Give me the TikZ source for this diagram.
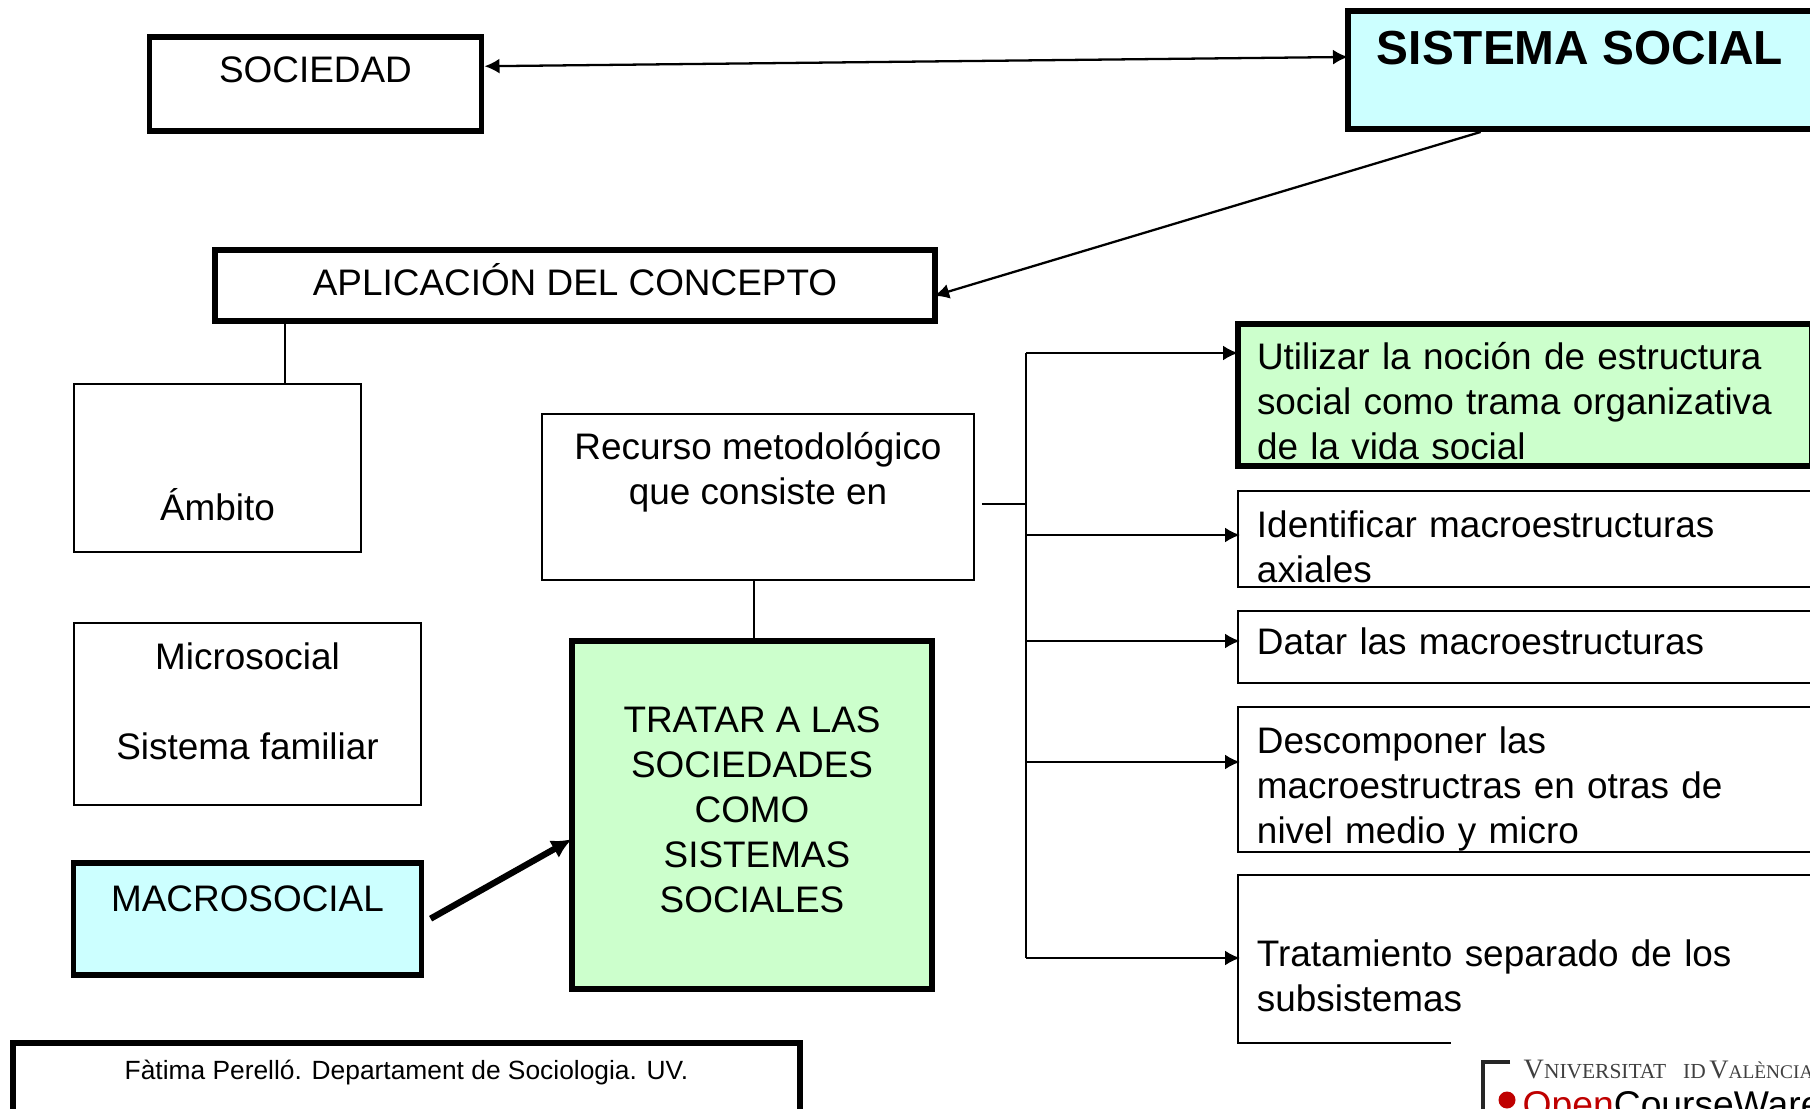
\documentclass[tikz,border=0pt]{standalone}
\usepackage{fontspec}
\setmainfont{Liberation Sans}
\newfontfamily\logofont{Liberation Serif}
\usepackage{xcolor}
\usetikzlibrary{arrows.meta}
\definecolor{cielo}{HTML}{CCFFFF}
\definecolor{menta}{HTML}{CCFFCC}
% extra room above the first line / below the last line of a box
\newcommand{\topgap}[1]{\rule{0pt}{#1}}
\newcommand{\lowgap}[1]{\rule[-#1]{0pt}{#1}}
\tikzset{
    thinbox/.style={draw = black, line width = 0.55pt, inner sep = 0pt, align = center,
        font = \fontsize{10.5}{12.8}\selectfont},
    thickbox/.style={thinbox, line width = 1.7pt},
    rightbox/.style={anchor = north west, minimum width = 5.74cm, text width = 5.36cm,
        inner xsep = .19cm, align = left},
    link/.style={draw = black, line width = 0.65pt},
    pointer/.style={link, shorten >= -.03cm, -{Latex[length=1.5mm,width=1.5mm]}},
}
\begin{document}
\begin{tikzpicture}
        \useasboundingbox (0,0) rectangle (18.1,-11.09);

        \node[thickbox, minimum width = 3.32cm, minimum height = .94cm] (sociedad) at (3.155,-.84) {SOCIEDAD\lowgap{8.4pt}};
        \node[thickbox, fill = cielo, anchor = north west, minimum width = 4.80cm, minimum height = 1.18cm,
        font = \fontsize{13.6}{15}\selectfont\bfseries] (sistema) at (13.45,-.08) {\hspace{-.16cm}SISTEMA SOCIAL\lowgap{12.4pt}};
        \node[thickbox, minimum width = 7.20cm, minimum height = .71cm] (aplicacion) at (5.75,-2.855) {APLICACIÓN DEL CONCEPTO\lowgap{3.2pt}};

        \node[thinbox, minimum width = 2.87cm, minimum height = 1.68cm] (ambito) at (2.175,-4.68) {\topgap{30pt}Ámbito};
        \node[thinbox, minimum width = 3.47cm, minimum height = 1.82cm] (microsocial) at (2.475,-7.14) {Microsocial\\[12.8pt]Sistema familiar\lowgap{7.4pt}};
        \node[thickbox, fill = cielo, minimum width = 3.48cm, minimum height = 1.12cm] (macrosocial) at (2.475,-9.19) {MACROSOCIAL\lowgap{11.8pt}};

        \node[thinbox, minimum width = 4.32cm, minimum height = 1.66cm] (recurso) at (7.58,-4.97) {Recurso metodológico\\que consiste en\lowgap{16pt}};
        \node[thickbox, fill = menta, minimum width = 3.60cm, minimum height = 3.48cm] (tratar) at (7.52,-8.15) {TRATAR A LAS\\SOCIEDADES\\COMO\\\hspace{.1cm}SISTEMAS\\SOCIALES\lowgap{3pt}};

        \node[thickbox, rightbox, fill = menta, minimum height = 1.42cm] (utilizar) at (12.35,-3.21) {\topgap{11pt}Utilizar la noción de estructura\\social como trama organizativa\\de la vida social};
        \node[thinbox, rightbox, minimum height = .96cm] (identificar) at (12.37,-4.90) {\topgap{12pt}Identificar macroestructuras\\axiales};
        \node[thinbox, rightbox, minimum height = .72cm] (datar) at (12.37,-6.10) {Datar las macroestructuras\lowgap{3.4pt}};
        \node[thinbox, rightbox, minimum height = 1.45cm] (descomponer) at (12.37,-7.06) {\topgap{13pt}Descomponer las\\macroestructras en otras de\\nivel medio y micro};
        \node[thinbox, rightbox, minimum height = 1.68cm] (tratamiento) at (12.37,-8.74) {\topgap{17.4pt}Tratamiento separado de los\\subsistemas};

        \node[thickbox, anchor = north west, minimum width = 7.87cm, minimum height = .74cm,
        font = \fontsize{7.5}{9}\selectfont] (autora) at (.10,-10.40) {Fàtima Perelló. Departament de Sociologia. UV.\lowgap{5.6pt}};

        % logo in the corner
        \node[fill = white, anchor = north west, minimum width = 3.6cm, minimum height = .74cm, inner sep = 0pt] (logofondo) at (14.5,-10.35) {};
        \node[anchor = base west, inner sep = 0pt, text = black!75, font = \logofont] (logouv) at (15.23,-10.78)
        {\fontsize{8}{9}\selectfont V\fontsize{6.1}{9}\selectfont NIVERSITAT\hspace{.17cm}ID\,\fontsize{7.6}{9}\selectfont V\fontsize{5.5}{9}\selectfont ALÈNCIA};
        \node[anchor = base west, inner sep = 0pt, font = \fontsize{10.6}{12}\selectfont] (logoocw) at (15.22,-11.17) {\textcolor{red!75!black}{Open}CourseWare};
        \node[circle, fill = red!75!black, minimum size = .17cm, inner sep = 0pt] (logopunto) at (15.07,-11.00) {};
        \coordinate (logoesquina) at (14.83,-10.62);
        \draw[line width = 1pt, black!85] ([xshift=.27cm]logoesquina) -- (logoesquina) -- ++(0,-.6);

        % connectors on top
        \draw[pointer, {Latex[length=1.5mm,width=1.5mm]}-{Latex[length=1.5mm,width=1.5mm]}] (sociedad.6.5) -- (sistema.west |- 0,-.57);
        \coordinate (aplicacionEnd) at (9.37,-2.95);
        \draw[pointer] (sistema.210.5) -- (aplicacionEnd);
        \coordinate (ambitoTop) at (2.85,-3.84);
        \draw[link] (ambitoTop |- aplicacion.south) -- (ambitoTop);
        \coordinate (tratarTop) at (7.54,-6.40);
        \draw[link] (tratarTop |- recurso.south) -- (tratarTop);
        \draw[pointer, line width = 1.8pt, shorten <= .07cm, -{Latex[length=2mm,width=2mm]}] (macrosocial.359) -- (tratar.188.5);

        \coordinate (busTop) at (10.26,-3.53);
        \coordinate (busStub) at (10.26,-5.04);
        \coordinate (busB) at (10.26,-5.35);
        \coordinate (busC) at (10.26,-6.41);
        \coordinate (busD) at (10.26,-7.62);
        \coordinate (busBottom) at (10.26,-9.58);
        \draw[link] (busTop) -- (busBottom);
        \draw[link, shorten <= .07cm] (busStub -| recurso.east) -- (busStub);
        \draw[pointer] (busTop) -- (busTop -| utilizar.west);
        \draw[pointer] (busB) -- (busB -| identificar.west);
        \draw[pointer] (busC) -- (busC -| datar.west);
        \draw[pointer] (busD) -- (busD -| descomponer.west);
        \draw[pointer] (busBottom) -- (busBottom -| tratamiento.west);
    \end{tikzpicture}
\end{document}
